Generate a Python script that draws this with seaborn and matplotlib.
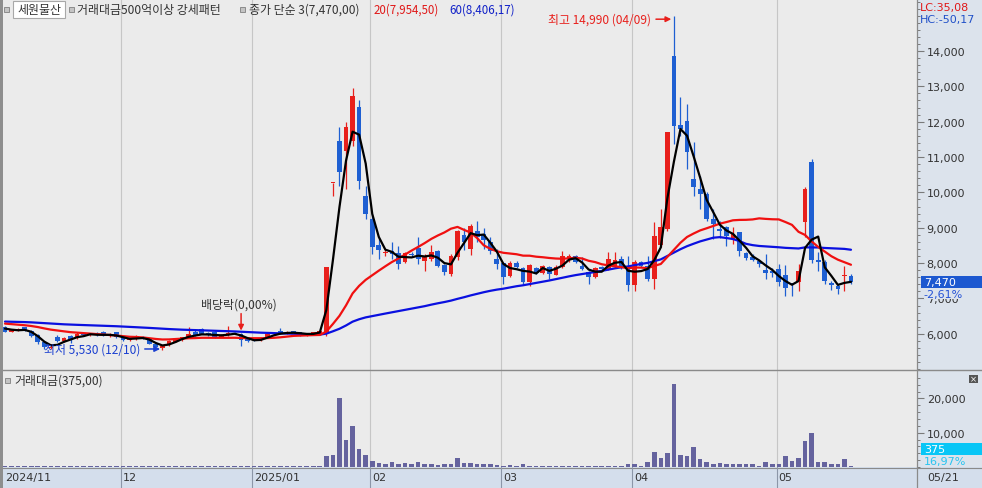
import numpy as np
import pandas as pd
import matplotlib
matplotlib.use("Agg")
import matplotlib.pyplot as plt
import matplotlib.transforms as mtrans
from matplotlib.patches import Rectangle
from matplotlib.lines import Line2D
from matplotlib.ticker import MultipleLocator, FuncFormatter
import seaborn as sns

# 세원물산 일봉 (2024/11 ~ 2025/05/21)
###################################

# 이동평균 계산용 이전 종가 (차트 시작 전)
pre_close = [6350, 6380, 6420, 6400, 6450, 6430, 6390, 6410, 6360, 6340,
             6380, 6400, 6370, 6330, 6310, 6350, 6390, 6420, 6440, 6410,
             6380, 6360, 6330, 6350, 6370, 6400, 6390, 6360, 6340, 6320,
             6350, 6380, 6360, 6340, 6370, 6390, 6360, 6330, 6350, 6370,
             6420, 6400, 6430, 6380, 6360, 6390, 6340, 6310, 6330, 6290,
             6270, 6250, 6280, 6230, 6210, 6240, 6190, 6200, 6180]

open_ = [6200, 6060, 6110, 6180, 6080, 5960, 5760, 5600, 5900, 5800,
         5940, 5880, 6000, 5970, 5990, 6040, 5960, 6040, 5900, 5820,
         5850, 5920, 5850, 5720, 5600, 5670, 5780, 5830, 5900, 6060,
         6130, 6000, 6040, 5920, 5960, 6030, 6000, 5880, 5860, 5820,
         5900, 5990, 6080, 6000, 6070, 6040, 5960, 5990, 5990, 6050,
         10270, 11460, 11180, 11460, 12410, 9900, 9250, 8520, 8290, 8350,
         8280, 8040, 8250, 8420, 8070, 8120, 8340, 7940, 7700, 8170,
         8790, 8400, 8910, 8820, 8590, 8110, 8000, 7630, 8000, 7850,
         7460, 7850, 7720, 7900, 7670, 7880, 8150, 8200, 7920, 7740,
         7600, 7880, 7840, 7900, 8110, 7920, 7370, 8020, 7920, 7550,
         8500, 8970, 13870, 11900, 12020, 10380, 10090, 9950, 9250, 8960,
         9010, 8670, 8870, 8280, 8180, 8060, 7800, 7770, 7840, 7660,
         7420, 7460, 9160, 10870, 8080, 8040, 7450, 7360, 7640, 7630]
high = [6230, 6130, 6160, 6200, 6100, 5990, 5790, 5700, 5960, 5900,
        5960, 6060, 6030, 6010, 6040, 6070, 6010, 6060, 5940, 5880,
        5960, 5950, 5880, 5750, 5680, 5820, 5870, 5920, 6200, 6100,
        6160, 6040, 6070, 5990, 6230, 6060, 6030, 5900, 5880, 5880,
        6000, 6050, 6150, 6070, 6090, 6060, 6010, 6060, 6100, 7900,
        10270, 11850, 12000, 12950, 12620, 10190, 9400, 8700, 8400, 8600,
        8490, 8300, 8300, 8730, 8250, 8500, 8380, 7980, 8250, 8950,
        9000, 9100, 9200, 9000, 8730, 8400, 8030, 8050, 8050, 7900,
        7980, 7900, 7960, 7930, 7940, 8350, 8260, 8240, 8160, 7780,
        7880, 7920, 8300, 8300, 8200, 8210, 8100, 8060, 8210, 9150,
        9530, 11710, 14990, 12690, 12500, 11420, 10470, 10000, 9530, 9200,
        9050, 9020, 8890, 8300, 8250, 8100, 8260, 7850, 7980, 7960,
        7450, 7980, 10140, 10950, 8300, 8080, 7500, 7400, 7930, 7700]
low = [6040, 6040, 6070, 6070, 5900, 5720, 5580, 5560, 5760, 5780,
       5740, 5860, 5940, 5930, 5950, 5940, 5920, 5880, 5800, 5800,
       5830, 5840, 5700, 5620, 5530, 5650, 5760, 5810, 5880, 5940,
       5980, 5950, 5890, 5900, 5940, 5980, 5650, 5780, 5790, 5800,
       5880, 5970, 5980, 5990, 6020, 5940, 5940, 5970, 5970, 5950,
       9900, 10180, 10100, 11300, 10100, 9250, 8260, 8120, 8200, 8120,
       7830, 8000, 8180, 7970, 7790, 8050, 7900, 7670, 7640, 8100,
       8360, 8230, 8590, 8400, 8260, 7830, 7410, 7600, 7850, 7420,
       7360, 7700, 7700, 7550, 7650, 7860, 8030, 8000, 7800, 7400,
       7580, 7790, 7800, 7850, 7820, 7220, 7220, 7880, 7500, 7270,
       8450, 8900, 11370, 11600, 10660, 9900, 9530, 9200, 8680, 8700,
       8490, 8530, 8200, 8100, 8050, 7880, 7550, 7620, 7340, 7070,
       7080, 7220, 8730, 8000, 7790, 7400, 7250, 7120, 7220, 7420]
close = [6060, 6110, 6130, 6090, 5950, 5760, 5620, 5640, 5800, 5880,
         5830, 6000, 5970, 5990, 5960, 5960, 5990, 5900, 5820, 5850,
         5930, 5860, 5720, 5640, 5650, 5800, 5850, 5900, 5990, 5960,
         6000, 5980, 5920, 5970, 6030, 6000, 5830, 5800, 5820, 5860,
         5990, 6020, 6000, 6050, 6040, 5960, 5990, 6040, 6080, 7900,
         10270, 10580, 11840, 12730, 10330, 9390, 8450, 8380, 8310, 8260,
         7970, 8280, 8230, 8120, 8210, 8320, 7930, 7750, 8210, 8910,
         8590, 9040, 8740, 8640, 8350, 7980, 7600, 8000, 7880, 7460,
         7940, 7720, 7920, 7700, 7900, 8190, 8200, 8030, 7820, 7600,
         7850, 7820, 8110, 8100, 7880, 7370, 8020, 7930, 7550, 8770,
         9010, 11710, 11890, 11780, 11140, 10150, 9960, 9250, 9110, 8900,
         8760, 8820, 8330, 8150, 8100, 7980, 7720, 7720, 7460, 7300,
         7400, 7780, 10110, 8100, 8040, 7500, 7380, 7270, 7670, 7470]

# 거래대금 (백만원)
amount = [330, 310, 300, 320, 340, 360, 380, 330, 350, 310,
          300, 320, 300, 300, 310, 320, 300, 320, 330, 300,
          320, 300, 330, 350, 370, 330, 310, 320, 340, 320,
          310, 300, 310, 300, 330, 300, 360, 320, 310, 300,
          310, 300, 320, 300, 300, 310, 300, 340, 380, 3270,
          3640, 20170, 7820, 12000, 5200, 3640, 1890, 1310, 930, 1510,
          930, 1030, 740, 1510, 740, 740, 640, 740, 740, 2680,
          1030, 1030, 930, 740, 820, 640, 350, 520, 350, 730,
          350, 350, 350, 350, 350, 350, 350, 350, 350, 350,
          350, 350, 350, 350, 350, 730, 1020, 350, 1510, 4230,
          2480, 3940, 24050, 3640, 3260, 5890, 2270, 1510, 1020, 1220,
          1020, 730, 1020, 730, 730, 350, 1510, 730, 1020, 3260,
          1890, 2480, 7530, 9770, 1510, 1320, 730, 730, 2270, 375]

# 월 구분 (봉 인덱스, 라벨)
month_start = [0, 18, 38, 56, 76, 96, 118]
month_label = ['2024/11', '12', '2025/01', '02', '03', '04', '05']
last_date = '05/21'


# 데이터 정리
df = pd.DataFrame({'open': open_, 'high': high, 'low': low,
                   'close': close, 'amount': amount})
df['i'] = np.arange(len(df))
full = pd.Series(pre_close + close)
n0 = len(pre_close)
df['ma3'] = full.rolling(3).mean().iloc[n0:].values
df['ma20'] = full.rolling(20).mean().iloc[n0:].values
df['ma60'] = full.rolling(60).mean().iloc[n0:].values
up = df['close'] >= df['open']

RED = '#E8201C'
BLUE = '#1E5FD2'
MA60 = '#0A10E0'
VOL = '#65639E'
BG = '#EBEBEB'
STRIP = '#DCE3EC'
DATESTRIP = '#D4DEEC'
TXT = '#333333'
KFS = 8.6   # 한글 글자 크기


# 그림
###################################
sns.set_style('white')
plt.rcParams['font.family'] = ['Noto Sans CJK KR', 'DejaVu Sans']

W, H = 982, 489
fig = plt.figure(figsize=(W / 100, H / 100), dpi=100)
fig.patch.set_facecolor(BG)


def fx(px):
    return px / W


def fy(py):
    return 1 - py / H


def frect(x0, y0, x1, y1, **kw):
    r = Rectangle((fx(x0), fy(y1)), fx(x1) - fx(x0), fy(y0) - fy(y1),
                  transform=fig.transFigure, **kw)
    fig.add_artist(r)
    return r


def fline(x0, y0, x1, y1, **kw):
    fig.add_artist(Line2D([fx(x0), fx(x1)], [fy(y0), fy(y1)],
                          transform=fig.transFigure, **kw))


# 배경 영역
frect(917, 0, W, 468, facecolor=STRIP, edgecolor='none', zorder=-2)
frect(0, 468, W, H, facecolor=DATESTRIP, edgecolor='none', zorder=-2)

x_left = (3 - 5) / 6.558
x_right = (917 - 5) / 6.558

ax = fig.add_axes([fx(3), fy(371), fx(917) - fx(3), fy(0) - fy(371)])
axv = fig.add_axes([fx(3), fy(468), fx(917) - fx(3), fy(372) - fy(468)])
for a in (ax, axv):
    a.set_facecolor(BG)
    for s in ('top', 'left', 'bottom'):
        a.spines[s].set_visible(False)
    a.spines['right'].set_color('#8A8A8A')
    a.spines['right'].set_linewidth(0.9)

# 월 구분선
for m in month_start[1:]:
    ax.axvline(m - 0.35, color='#C6C6C6', lw=0.8, zorder=0)
    axv.axvline(m - 0.35, color='#C6C6C6', lw=0.8, zorder=0)

# 캔들
colors = np.where(up, RED, BLUE)
ax.vlines(df['i'], df['low'], df['high'], colors=colors, lw=0.9, zorder=2)
body_lo = np.minimum(df['open'], df['close'])
body_h = np.maximum(np.abs(df['close'] - df['open']), 30)
ax.bar(df['i'], body_h, bottom=body_lo, width=0.72, color=colors,
       linewidth=0, zorder=3)

# 이동평균선
sns.lineplot(x='i', y='ma60', data=df, color=MA60, lw=1.6, ax=ax,
             legend=False, zorder=4)
sns.lineplot(x='i', y='ma20', data=df, color='#F01010', lw=1.6, ax=ax,
             legend=False, zorder=4)
sns.lineplot(x='i', y='ma3', data=df, color='black', lw=1.6, ax=ax,
             legend=False, zorder=5)

ax.set_xlim(x_left, x_right)
ax.set_ylim(14000 - (371 - 52) * 28.29, 14000 + 52 * 28.29)
ax.set_xlabel('')
ax.set_ylabel('')
ax.set_xticks([])
ax.yaxis.tick_right()
ax.set_yticks(range(6000, 15000, 1000))
ax.yaxis.set_minor_locator(MultipleLocator(200))
fmt = FuncFormatter(lambda v, p: f'{int(v):,}')
ax.yaxis.set_major_formatter(fmt)

# 최고 / 최저 / 배당락 표시
hi_i = int(df['high'].idxmax())
lo_i = int(df['low'].idxmin())
ax.annotate('최고 14,990 (04/09)', xy=(hi_i - 0.4, df['high'][hi_i] - 90),
            xytext=(-20, 0), textcoords='offset pixels', ha='right',
            va='center', fontsize=KFS, color=RED, zorder=6,
            arrowprops=dict(arrowstyle='-|>', color=RED, lw=1.1,
                            mutation_scale=8, shrinkA=1, shrinkB=0))
ax.annotate('최저 5,530 (12/10)', xy=(lo_i - 0.35, df['low'][lo_i] + 40),
            xytext=(-20, 0), textcoords='offset pixels', ha='right',
            va='center', fontsize=KFS, color='#1A3FD0', zorder=6,
            arrowprops=dict(arrowstyle='-|>', color='#1A3FD0', lw=1.1,
                            mutation_scale=8, shrinkA=1, shrinkB=0))
div_i = 36
ax.annotate('', xy=(div_i, df['high'][div_i] + 60), xytext=(0, 17),
            textcoords='offset pixels', zorder=6,
            arrowprops=dict(arrowstyle='-|>', color=RED, lw=1.1,
                            mutation_scale=8, shrinkA=0, shrinkB=0))
ax.annotate('배당락(0,00%)', xy=(div_i, df['high'][div_i] + 60),
            xytext=(-2, 27), textcoords='offset pixels', ha='center',
            va='center', fontsize=KFS, color=TXT, zorder=6)

# 거래대금
sns.barplot(x='i', y='amount', data=df, native_scale=True, color=VOL,
            width=0.7, errorbar=None, saturation=1, linewidth=0, ax=axv)
axv.set_xlim(x_left, x_right)
axv.set_ylim(0, (468 - 372) * 291.5)
axv.set_xlabel('')
axv.set_ylabel('')
axv.set_xticks([])
axv.yaxis.tick_right()
axv.set_yticks([10000, 20000])
axv.yaxis.set_minor_locator(MultipleLocator(2000))
axv.yaxis.set_major_formatter(fmt)

for a in (ax, axv):
    a.tick_params(axis='y', which='major', direction='out', length=5,
                  width=0.8, color='#7A7A7A', labelsize=8, labelcolor=TXT,
                  pad=2, right=True, left=False)
    a.tick_params(axis='y', which='minor', direction='out', length=2.5,
                  width=0.7, color='#7A7A7A', right=True, left=False)
    for lab in a.get_yticklabels():
        lab.set_family('DejaVu Sans')

# 현재가 박스
blend = mtrans.blended_transform_factory(ax.transAxes, ax.transData)
last = df['close'].iloc[-1]
ax.add_patch(Rectangle((1.0044, last - 6 * 28.29), 0.0667, 12 * 28.29,
                       transform=blend, clip_on=False, facecolor='#1C58D0',
                       edgecolor='none', zorder=6))
ax.text(1.0075, last, f'{last:,}', transform=blend, color='white',
        fontsize=8, va='center', ha='left', family='DejaVu Sans', zorder=7)
ax.text(1.0075, last - 12 * 28.29, '-2,61%', transform=blend,
        color='#2452D6', fontsize=8, va='center', ha='left',
        family='DejaVu Sans', zorder=7,
        bbox=dict(facecolor=STRIP, edgecolor='none', pad=0.2))

vb = mtrans.blended_transform_factory(axv.transAxes, axv.transAxes)
axv.add_patch(Rectangle((1.0044, 0.125), 0.0667, 0.125, transform=vb,
                        clip_on=False, facecolor='#08C6F6',
                        edgecolor='none', zorder=6))
axv.text(1.0075, 0.1875, f"{df['amount'].iloc[-1]:,}", transform=vb,
         color='white', fontsize=8, va='center', ha='left',
         family='DejaVu Sans', zorder=7)
axv.text(1.0075, 0.06, '16,97%', transform=vb, color='#28C4F0',
         fontsize=8, va='center', ha='left', family='DejaVu Sans', zorder=7,
         bbox=dict(facecolor=STRIP, edgecolor='none', pad=0.3))

# 구분선
fline(0, 371, W, 371, color='#8A8A8A', lw=1.0)
fline(0, 468.6, W, 468.6, color='#8A8A8A', lw=0.8)
fline(917, 468, 917, H, color='#8A8A8A', lw=0.9)
frect(0, 0, 2.5, H, facecolor='#8E8E8E', edgecolor='none', zorder=3)

# 날짜 축
for m, lab in zip(month_start, month_label):
    px = 5 + (m - 0.35) * 6.558
    if m > 0:
        fline(px, 468, px, H, color='#8C96A8', lw=0.8)
    fig.text(fx(max(px, 2) + 2), fy(478.5), lab, fontsize=8, color=TXT,
             va='center', ha='left', family='DejaVu Sans')
fig.text(fx(927), fy(478.5), last_date, fontsize=8, color=TXT,
         va='center', ha='left', family='DejaVu Sans')


# 상단 범례
def marker(px, py):
    frect(px, py - 2.5, px + 5, py + 2.5, facecolor='#C4C4C4',
          edgecolor='#8C8C8C', lw=0.7, zorder=5)


marker(4, 10)
frect(13, 2, 65, 18.5, facecolor='white', edgecolor='#A8A8A8', lw=0.8,
      zorder=5)
fig.text(fx(17), fy(10.5), '세원물산', fontsize=KFS, color=TXT, va='center',
         zorder=6)
marker(69, 10)
fig.text(fx(77), fy(10.5), '거래대금500억이상 강세패턴', fontsize=KFS,
         color=TXT, va='center', zorder=6)
marker(240, 10)
fig.text(fx(249), fy(10.5), f'종가 단순 3({last:,},00)', fontsize=KFS,
         color=TXT, va='center', zorder=6)
fig.text(fx(374), fy(10.5), '20(7,954,50)', fontsize=8.3, color='#E01818',
         va='center', zorder=6)
fig.text(fx(449), fy(10.5), '60(8,406,17)', fontsize=8.3, color='#1020C8',
         va='center', zorder=6)

fig.text(fx(920), fy(8), 'LC:35,08', fontsize=8, color='#E01818',
         va='center', family='DejaVu Sans', zorder=6)
fig.text(fx(920), fy(20), 'HC:-50,17', fontsize=8, color='#2050C8',
         va='center', family='DejaVu Sans', zorder=6)

marker(5, 381)
fig.text(fx(14), fy(381), '거래대금(375,00)', fontsize=KFS, color=TXT,
         va='center', zorder=6)

# 닫기 버튼
frect(969, 376, 978, 384, facecolor='#555555', edgecolor='none', zorder=6)
fig.text(fx(973.5), fy(380), '×', fontsize=6, color='white', ha='center',
         va='center', family='DejaVu Sans', zorder=7)

fig.savefig('out.png', dpi=100, facecolor=fig.get_facecolor())
